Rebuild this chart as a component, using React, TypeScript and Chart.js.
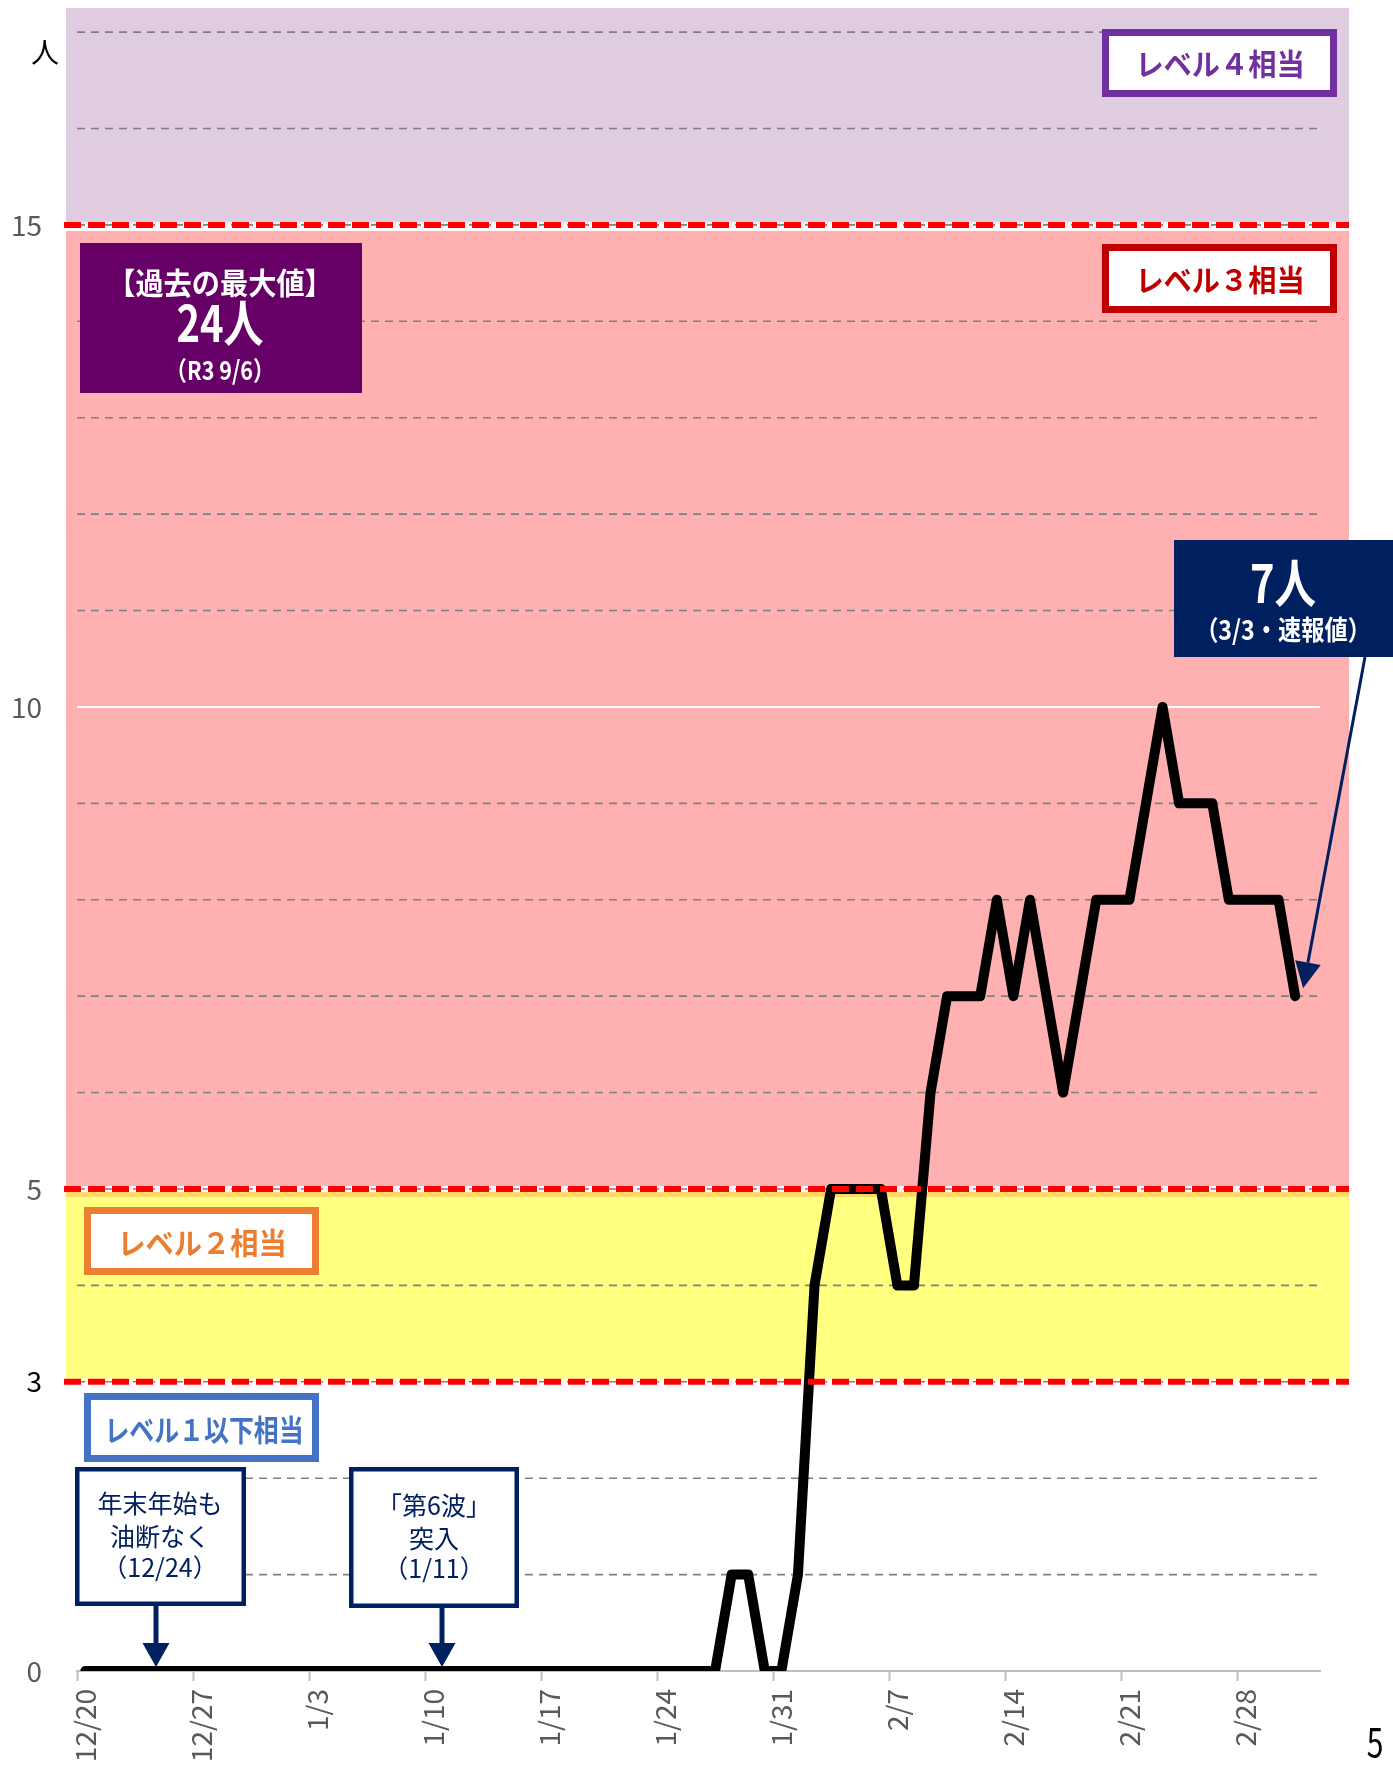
import React, { useEffect, useRef } from "react";
import { Chart, registerables } from "chart.js";

Chart.register(...registerables);

const FONT = '"Noto Sans CJK JP", "Noto Sans", sans-serif';

// categories: one per day, 12/20 .. 3/4
const dates = [
  "12/20", "12/21", "12/22", "12/23", "12/24", "12/25", "12/26", "12/27", "12/28", "12/29", "12/30", "12/31",
  "1/1", "1/2", "1/3", "1/4", "1/5", "1/6", "1/7", "1/8", "1/9", "1/10", "1/11", "1/12", "1/13", "1/14", "1/15",
  "1/16", "1/17", "1/18", "1/19", "1/20", "1/21", "1/22", "1/23", "1/24", "1/25", "1/26", "1/27", "1/28", "1/29",
  "1/30", "1/31",
  "2/1", "2/2", "2/3", "2/4", "2/5", "2/6", "2/7", "2/8", "2/9", "2/10", "2/11", "2/12", "2/13", "2/14", "2/15",
  "2/16", "2/17", "2/18", "2/19", "2/20", "2/21", "2/22", "2/23", "2/24", "2/25", "2/26", "2/27", "2/28",
  "3/1", "3/2", "3/3", "3/4",
];

// daily values (persons), last category empty
const patients: (number | null)[] = [
  0, 0, 0, 0, 0, 0, 0, 0, 0, 0, 0, 0,
  0, 0, 0, 0, 0, 0, 0, 0, 0, 0, 0, 0, 0, 0, 0,
  0, 0, 0, 0, 0, 0, 0, 0, 0, 0, 0, 0, 1, 1,
  0, 0,
  1, 4, 5, 5, 5, 5, 4, 4, 6, 7, 7, 7, 8, 7, 8,
  7, 6, 7, 8, 8, 8, 9, 10, 9, 9, 9, 8, 8,
  8, 8, 7, null,
];

const xLabelEvery = 7;
const yTickLabels = [0, 3, 5, 10, 15];
const yMax = 17.25;
const levelLines = [3, 5, 15];
const whiteGridValue = 10;

function drawText(ctx: CanvasRenderingContext2D, s: string, cx: number, cy: number, font: string, color: string, sx = 1) {
  ctx.save();
  ctx.font = font;
  ctx.fillStyle = color;
  ctx.textAlign = "center";
  ctx.textBaseline = "middle";
  ctx.translate(cx, cy);
  ctx.scale(sx, 1);
  ctx.fillText(s, 0, 0);
  ctx.restore();
}

function box(ctx: CanvasRenderingContext2D, x1: number, y1: number, x2: number, y2: number, fill: string, stroke?: string, lw = 0) {
  ctx.save();
  ctx.fillStyle = fill;
  ctx.fillRect(x1, y1, x2 - x1, y2 - y1);
  if (stroke && lw > 0) {
    ctx.strokeStyle = stroke;
    ctx.lineWidth = lw;
    ctx.strokeRect(x1 + lw / 2, y1 + lw / 2, x2 - x1 - lw, y2 - y1 - lw);
  }
  ctx.restore();
}

function downArrow(ctx: CanvasRenderingContext2D, x: number, yFrom: number, yTip: number, color: string) {
  ctx.save();
  ctx.strokeStyle = color;
  ctx.fillStyle = color;
  ctx.lineWidth = 5;
  ctx.beginPath();
  ctx.moveTo(x, yFrom);
  ctx.lineTo(x, yTip - 20);
  ctx.stroke();
  ctx.beginPath();
  ctx.moveTo(x - 13.5, yTip - 24);
  ctx.lineTo(x + 13.5, yTip - 24);
  ctx.lineTo(x, yTip);
  ctx.closePath();
  ctx.fill();
  ctx.restore();
}

const decorPlugin = {
  id: "decor",
  beforeDraw(chart: any) {
    const { ctx, chartArea: a, scales } = chart;
    const y = scales.y;
    const L = a.left - 11;
    const R = a.right + 29;
    const yTop = y.getPixelForValue(yMax);
    const y15 = y.getPixelForValue(15);
    const y5 = y.getPixelForValue(5);
    const y3 = y.getPixelForValue(3);
    ctx.save();
    ctx.fillStyle = "#ffffff";
    ctx.fillRect(0, 0, chart.width, chart.height);
    ctx.fillStyle = "#E0CCE0";
    ctx.fillRect(L, yTop, R - L, y15 - 3 - yTop);
    ctx.fillStyle = "#FFB0B0";
    ctx.fillRect(L, y15 + 6, R - L, y5 - 3 - (y15 + 6));
    ctx.fillStyle = "#FFFF80";
    ctx.fillRect(L, y5 + 3, R - L, y3 - 3 - (y5 + 3));
    ctx.fillStyle = "#FFD966";
    ctx.fillRect(L, y5 + 3, R - L, 5);
    ctx.restore();
  },
  beforeDatasetsDraw(chart: any) {
    const { ctx, chartArea: a, scales } = chart;
    const y = scales.y;
    ctx.save();
    for (let v = 1; v <= Math.floor(yMax); v++) {
      const py = y.getPixelForValue(v);
      ctx.beginPath();
      if (v === whiteGridValue) {
        ctx.setLineDash([]);
        ctx.strokeStyle = "#ffffff";
        ctx.lineWidth = 2;
      } else {
        ctx.setLineDash([8, 6]);
        ctx.strokeStyle = "#808080";
        ctx.lineWidth = 1.6;
      }
      ctx.moveTo(a.left, py);
      ctx.lineTo(a.right, py);
      ctx.stroke();
    }
    ctx.restore();
  },
  afterDatasetsDraw(chart: any) {
    const { ctx, chartArea: a, scales } = chart;
    const y = scales.y;
    const L = a.left - 13;
    const R = a.right + 29;
    ctx.save();
    // level threshold lines
    ctx.strokeStyle = "#FF0000";
    ctx.lineWidth = 6;
    ctx.setLineDash([17, 7]);
    for (const v of levelLines) {
      const py = y.getPixelForValue(v);
      ctx.beginPath();
      ctx.moveTo(L, py);
      ctx.lineTo(R, py);
      ctx.stroke();
    }
    ctx.setLineDash([]);
    ctx.restore();

    const navy = "#002060";
    // level labels
    box(ctx, 1102, 29, 1337, 97, "#ffffff", "#7030A0", 7);
    drawText(ctx, "レベル４相当", 1220, 64, `bold 30px ${FONT}`, "#7030A0", 0.94);
    box(ctx, 1102, 244, 1337, 313, "#ffffff", "#C00000", 7);
    drawText(ctx, "レベル３相当", 1220, 280, `bold 30px ${FONT}`, "#C00000", 0.94);
    box(ctx, 84, 1207, 319, 1275, "#ffffff", "#ED7D31", 7);
    drawText(ctx, "レベル２相当", 202, 1243, `bold 30px ${FONT}`, "#ED7D31", 0.94);
    box(ctx, 84, 1393, 319, 1462, "#ffffff", "#4472C4", 7);
    drawText(ctx, "レベル１以下相当", 204, 1430, `bold 30px ${FONT}`, "#4472C4", 0.83);

    // past maximum
    box(ctx, 80, 243, 362, 393, "#660066");
    drawText(ctx, "【過去の最大値】", 220, 283, `bold 30px ${FONT}`, "#ffffff", 0.94);
    drawText(ctx, "24人", 220, 323, `bold 50px ${FONT}`, "#ffffff", 0.8);
    drawText(ctx, "（R3 9/6）", 220, 370, `bold 26px ${FONT}`, "#ffffff", 0.83);

    // event callouts
    box(ctx, 75, 1467, 246, 1606, "#ffffff", navy, 4.5);
    drawText(ctx, "年末年始も", 160, 1503, `25px ${FONT}`, navy);
    drawText(ctx, "油断なく", 160, 1536, `25px ${FONT}`, navy);
    drawText(ctx, "（12/24）", 160, 1567, `25px ${FONT}`, navy);
    downArrow(ctx, 156, 1606, 1667, navy);

    box(ctx, 349, 1467, 519, 1608, "#ffffff", navy, 4.5);
    drawText(ctx, "「第6波」", 434, 1505, `25px ${FONT}`, navy);
    drawText(ctx, "突入", 434, 1538, `25px ${FONT}`, navy);
    drawText(ctx, "（1/11）", 434, 1568, `25px ${FONT}`, navy);
    downArrow(ctx, 442, 1608, 1667, navy);

    // latest value callout
    const meta = chart.getDatasetMeta(0);
    let lastIdx = patients.length - 1;
    while (lastIdx > 0 && patients[lastIdx] == null) lastIdx--;
    const pt = meta.data[lastIdx];
    const tipX = pt.x + 8;
    const tipY = pt.y - 8;
    const sx0 = 1365, sy0 = 657;
    const dx = tipX - sx0, dy = tipY - sy0;
    const len = Math.hypot(dx, dy);
    const ux = dx / len, uy = dy / len;
    const bx = tipX - ux * 26, by = tipY - uy * 26;
    ctx.save();
    ctx.strokeStyle = navy;
    ctx.fillStyle = navy;
    ctx.lineWidth = 3;
    ctx.beginPath();
    ctx.moveTo(sx0, sy0);
    ctx.lineTo(bx, by);
    ctx.stroke();
    ctx.beginPath();
    ctx.moveTo(tipX, tipY);
    ctx.lineTo(bx - uy * 13, by + ux * 13);
    ctx.lineTo(bx + uy * 13, by - ux * 13);
    ctx.closePath();
    ctx.fill();
    ctx.restore();

    box(ctx, 1174, 540, 1393, 657, navy);
    drawText(ctx, "7人", 1283, 583, `bold 52px ${FONT}`, "#ffffff", 0.8);
    drawText(ctx, "（3/3・速報値）", 1283, 630, `bold 27px ${FONT}`, "#ffffff", 0.86);

    // unit and page number
    drawText(ctx, "人", 45, 52, `28px ${FONT}`, "#000000");
    drawText(ctx, "5", 1375, 1742, `40px ${FONT}`, "#000000", 0.75);
  },
};

export default function App() {
  const ref = useRef<HTMLCanvasElement | null>(null);

  useEffect(() => {
    if (!ref.current) return;
    const chart = new Chart(ref.current, {
      type: "line",
      data: {
        labels: dates,
        datasets: [
          {
            data: patients,
            borderColor: "#000000",
            borderWidth: 10,
            pointRadius: 0,
            pointHoverRadius: 0,
            tension: 0,
            borderJoinStyle: "round",
            borderCapStyle: "round",
            fill: false,
            spanGaps: false,
          },
        ],
      },
      options: {
        responsive: false,
        animation: false,
        devicePixelRatio: 1,
        events: [],
        layout: { padding: { top: 8, right: 73, bottom: 0, left: 0 }, autoPadding: false },
        plugins: { legend: { display: false }, tooltip: { enabled: false }, title: { display: false } },
        scales: {
          x: {
            type: "category",
            offset: true,
            grid: {
              offset: true,
              drawOnChartArea: false,
              drawTicks: true,
              tickLength: 10,
              tickWidth: 2,
              tickColor: (c: any) => (c.index % xLabelEvery === 0 ? "#BFBFBF" : "rgba(0,0,0,0)"),
            },
            border: { display: true, color: "#BFBFBF", width: 2 },
            ticks: {
              autoSkip: false,
              maxRotation: 90,
              minRotation: 90,
              padding: 8,
              color: "#595959",
              font: { family: FONT, size: 28 },
              callback: (_v: any, i: number) => (i % xLabelEvery === 0 ? dates[i] : ""),
            },
            afterFit: (s: any) => {
              s.height = 97;
              s.paddingLeft = 0;
              s.paddingRight = 0;
              s.paddingTop = 0;
              s.paddingBottom = 0;
            },
          },
          y: {
            type: "linear",
            min: 0,
            max: yMax,
            grid: { display: false, drawTicks: false },
            border: { display: false },
            ticks: {
              stepSize: 1,
              autoSkip: false,
              padding: 35,
              color: (c: any) => (c.tick && c.tick.value === 3 ? "#000000" : "#595959"),
              font: { family: FONT, size: 28 },
              callback: (v: any) => (yTickLabels.includes(Number(v)) ? String(v) : ""),
            },
            afterFit: (s: any) => {
              s.width = 77;
              s.paddingLeft = 0;
              s.paddingRight = 0;
              s.paddingTop = 0;
              s.paddingBottom = 0;
            },
          },
        },
      },
      plugins: [decorPlugin],
    } as any);
    return () => chart.destroy();
  }, []);

  return (
    <div style={{ position: "absolute", left: 0, top: 0, width: 1393, height: 1768, background: "#fff" }}>
      <canvas ref={ref} width={1393} height={1768} style={{ display: "block" }} />
    </div>
  );
}
